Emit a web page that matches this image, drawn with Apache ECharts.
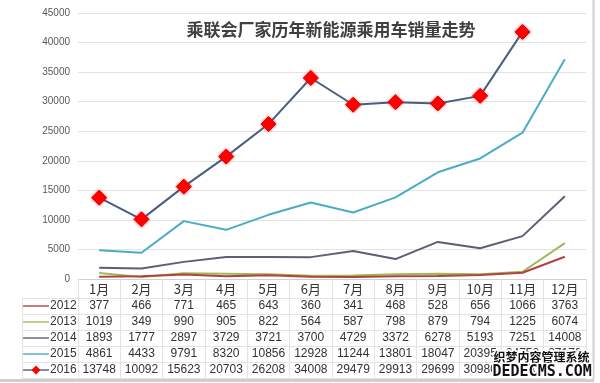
<!DOCTYPE html>
<html>
<head>
<meta charset="utf-8">
<script src="https://cdn.jsdelivr.net/npm/echarts@6/dist/echarts.min.js"></script>
<style>
html,body{margin:0;padding:0;background:#fff;}
#main{width:600px;height:383px;}
</style>
</head>
<body>
<div id="main"></div>
<script>
const months = ['1月','2月','3月','4月','5月','6月','7月','8月','9月','10月','11月','12月'];
const years = ['2012','2013','2014','2015','2016'];
const s2012 = [377,466,771,465,643,360,341,468,528,656,1066,3763];
const s2013 = [1019,349,990,905,822,564,587,798,879,794,1225,6074];
const s2014 = [1893,1777,2897,3729,3721,3700,4729,3372,6278,5193,7251,14008];
const s2015 = [4861,4433,9791,8320,10856,12928,11244,13801,18047,20395,24750,37170];
const s2016 = [13748,10092,15623,20703,26208,34008,29479,29913,29699,30980,41800,null];
const yMin = 0, yMax = 45000, yStep = 5000;
const titleText = '乘联会厂家历年新能源乘用车销量走势';

const seriesData = [s2012, s2013, s2014, s2015, s2016];
const colors = ['#b4413f', '#9bbb59', '#5a5f73', '#4bacc6', '#4a5d80'];
const gridLine = '#e3e3e3';

const xAxes = [{
  type: 'category', data: months, gridIndex: 0, position: 'bottom', offset: 0,
  boundaryGap: true,
  axisLine: {show: true, lineStyle: {color: '#d0d0d0', width: 1}},
  axisTick: {show: true, length: 19, lineStyle: {color: gridLine}},
  axisLabel: {interval: 0, margin: 4, fontSize: 13, color: '#333', fontFamily: 'Noto Sans CJK SC'},
  splitLine: {show: false}
}];
seriesData.forEach((arr, k) => {
  xAxes.push({
    type: 'category', data: arr.map(v => v == null ? '' : String(v)),
    gridIndex: 0, position: 'bottom', offset: 19 + 16 * k,
    axisLine: {show: true, lineStyle: {color: gridLine, width: 1}},
    axisTick: {show: true, length: 16, lineStyle: {color: gridLine}},
    axisLabel: {interval: 0, margin: 2, fontSize: 12, color: '#333', fontFamily: 'Liberation Sans'},
    splitLine: {show: false}
  });
});
xAxes.push({
  type: 'category', data: months, gridIndex: 0, position: 'bottom', offset: 99,
  axisLine: {show: true, lineStyle: {color: gridLine, width: 1}},
  axisTick: {show: false}, axisLabel: {show: false}, splitLine: {show: false}
});

const markerStyle = {color: '#ff0000', borderColor: '#e00000', borderWidth: 1, shadowColor: 'rgba(255,0,0,0.5)', shadowBlur: 3};
const series = seriesData.map((arr, k) => {
  const isLast = k === 4;
  return {
    name: years[k], type: 'line',
    data: isLast ? arr.map(v => ({value: v, itemStyle: markerStyle})) : arr,
    xAxisIndex: 0, yAxisIndex: 0,
    symbol: isLast ? 'diamond' : 'none', symbolSize: isLast ? 15 : 0,
    showSymbol: isLast,
    lineStyle: {color: colors[k], width: 2},
    itemStyle: {color: colors[k]},
    z: 10 - k
  };
});

const lineIcon = 'path://M0,0 M0,14 M0,6.2 L30,6.2 L30,7.8 L0,7.8 Z';
const legendData = years.map((y, k) => ({name: y, icon: lineIcon}));

const chart = echarts.init(document.getElementById('main'), null, {renderer: 'canvas'});
chart.setOption({
  animation: false,
  backgroundColor: '#ffffff',
  title: {
    text: titleText, left: 326, top: 16, textAlign: 'center',
    textStyle: {fontSize: 17, fontWeight: 'bold', color: '#404040', fontFamily: 'Noto Sans CJK SC'}
  },
  legend: {
    orient: 'vertical', left: 23, top: 299, padding: 0, itemWidth: 26, itemHeight: 14, itemGap: 2,
    height: 84,
    data: legendData,
    textStyle: {fontSize: 12, color: '#333', lineHeight: 14, fontFamily: 'Liberation Sans', padding: [0, 0, 0, -4]},
    selectedMode: false
  },
  grid: {left: 78, right: 14, top: 13, bottom: 104, containLabel: false},
  xAxis: xAxes,
  yAxis: {
    type: 'value', min: yMin, max: yMax, interval: yStep,
    axisLine: {show: false}, axisTick: {show: false},
    axisLabel: {fontSize: 10, color: '#595959', margin: 8, fontFamily: 'Liberation Sans', formatter: v => String(v)},
    splitLine: {show: true, lineStyle: {color: gridLine, width: 1}}
  },
  series: series,
  graphic: [
    {type: 'line', shape: {x1: 22.5, y1: 298, x2: 22.5, y2: 378}, style: {stroke: gridLine, lineWidth: 1}},
    {type: 'line', shape: {x1: 22, y1: 298.5, x2: 78, y2: 298.5}, style: {stroke: gridLine, lineWidth: 1}},
    {type: 'line', shape: {x1: 22, y1: 314.5, x2: 78, y2: 314.5}, style: {stroke: gridLine, lineWidth: 1}},
    {type: 'line', shape: {x1: 22, y1: 330.5, x2: 78, y2: 330.5}, style: {stroke: gridLine, lineWidth: 1}},
    {type: 'line', shape: {x1: 22, y1: 346.5, x2: 78, y2: 346.5}, style: {stroke: gridLine, lineWidth: 1}},
    {type: 'line', shape: {x1: 22, y1: 362.5, x2: 78, y2: 362.5}, style: {stroke: gridLine, lineWidth: 1}},
    {type: 'line', shape: {x1: 22, y1: 378.5, x2: 78, y2: 378.5}, style: {stroke: gridLine, lineWidth: 1}},
    {type: 'polygon', z: 50, shape: {points: [[36, 365.5], [40.5, 370], [36, 374.5], [31.5, 370]]}, style: {fill: '#ff0000'}},
    {type: 'line', shape: {x1: 593.5, y1: 0, x2: 593.5, y2: 380}, style: {stroke: '#cfcfcf', lineWidth: 2}},
    {type: 'line', shape: {x1: 0, y1: 380.5, x2: 594, y2: 380.5}, style: {stroke: '#cfcfcf', lineWidth: 3}},
    {type: 'text', left: 492, top: 350, z: 100, style: {text: '织梦内容管理系统', fontSize: 12, fontWeight: 'bold', fill: '#111', stroke: '#fff', lineWidth: 3, fontFamily: 'Noto Sans CJK SC'}},
    {type: 'text', left: 491, top: 363, z: 100, style: {text: 'DEDECMS.COM', fontSize: 15, fontWeight: 'bold', fill: '#111', stroke: '#fff', lineWidth: 3, fontFamily: 'DejaVu Sans Mono'}}
  ]
});
</script>
</body>
</html>
